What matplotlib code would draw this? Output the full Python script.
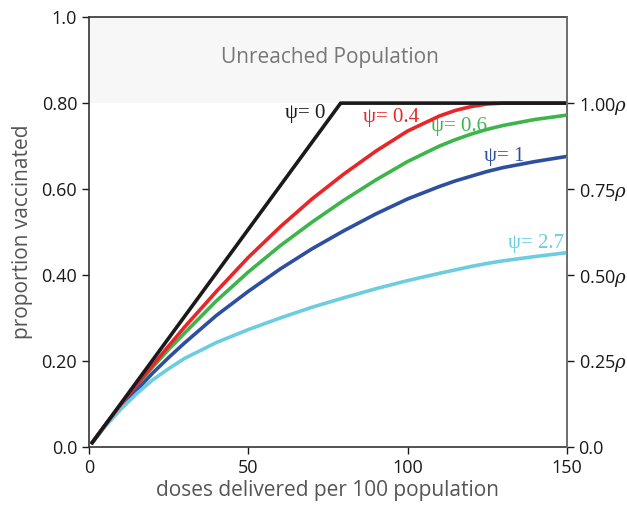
import matplotlib.pyplot as plt

# doses delivered per 100 population
doses = [1, 5, 10, 15, 20, 25, 30, 40, 50, 60, 70, 80, 90, 100, 110, 115, 120, 125, 130, 140, 150]

# proportion vaccinated for each heterogeneity value psi
psi0_x = [1, 79, 150]
psi0_y = [0.01, 0.80, 0.80]
psi04 = [0.01, 0.050, 0.099, 0.145, 0.190, 0.235, 0.279, 0.362, 0.441, 0.512, 0.577, 0.635, 0.688,
         0.735, 0.770, 0.783, 0.792, 0.798, 0.800, 0.800, 0.800]
psi06 = [0.01, 0.050, 0.097, 0.142, 0.186, 0.227, 0.265, 0.340, 0.407, 0.468, 0.523, 0.574, 0.621,
         0.664, 0.700, 0.715, 0.728, 0.739, 0.748, 0.762, 0.772]
psi1 = [0.01, 0.050, 0.092, 0.132, 0.172, 0.208, 0.242, 0.306, 0.362, 0.414, 0.461, 0.503, 0.542,
        0.577, 0.606, 0.619, 0.630, 0.641, 0.650, 0.664, 0.676]
psi27 = [0.01, 0.047, 0.088, 0.124, 0.156, 0.182, 0.206, 0.243, 0.273, 0.300, 0.325, 0.347, 0.368,
         0.387, 0.404, 0.412, 0.420, 0.427, 0.433, 0.443, 0.452]

rho = 0.8
left_ticks = [0.0, 0.2, 0.4, 0.6, 0.8, 1.0]
left_labels = ['0.0', '0.20', '0.40', '0.60', '0.80', '1.0']
right_ticks = [0.0, 0.2, 0.4, 0.6, 0.8]
right_labels = ['0.0', r'0.25$\rho$', r'0.50$\rho$', r'0.75$\rho$', r'1.00$\rho$']

plt.rcParams['font.family'] = ['Open Sans', 'DejaVu Sans']
plt.rcParams['mathtext.fontset'] = 'dejavuserif'

fig = plt.figure(figsize=(6.27, 5.05), dpi=100)
ax = fig.add_axes([0.142, 0.115, 0.762, 0.851])

# unreached population band
ax.axhspan(rho, 1.0, color='#f7f7f7', zorder=0, lw=0)
ax.text(75.5, 0.907, 'Unreached Population', ha='center', va='center',
        fontsize=15, color='#777777')

lw = 2.6
ax.plot(psi0_x, psi0_y, color='#1a1a1a', lw=lw, zorder=5)
ax.plot(doses, psi04, color='#e8262a', lw=lw, zorder=4)
ax.plot(doses, psi06, color='#3db54a', lw=lw, zorder=3)
ax.plot(doses, psi1, color='#2e4fa0', lw=lw, zorder=3)
ax.plot(doses, psi27, color='#6dcde0', lw=lw, zorder=3)

serif = ['Liberation Serif', 'DejaVu Serif']
ax.text(61.5, 0.775, 'ψ= 0', color='#1a1a1a', fontsize=15, family=serif, va='center')
ax.text(86, 0.767, 'ψ= 0.4', color='#e8262a', fontsize=15, family=serif, va='center')
ax.text(107.5, 0.745, 'ψ= 0.6', color='#3db54a', fontsize=15, family=serif, va='center')
ax.text(124, 0.675, 'ψ= 1', color='#2e4fa0', fontsize=15, family=serif, va='center')
ax.text(131.5, 0.474, 'ψ= 2.7', color='#6dcde0', fontsize=15, family=serif, va='center')

ax.set_xlim(0, 150)
ax.set_ylim(0, 1.0)
ax.set_xticks([0, 50, 100, 150])
ax.set_yticks(left_ticks)
ax.set_yticklabels(left_labels)
ax.tick_params(direction='out', length=5, width=1, labelsize=13, colors='#1a1a1a')
ax.set_xlabel('doses delivered per 100 population', fontsize=15, color='#555555', labelpad=2)
ax.set_ylabel('proportion vaccinated', fontsize=15, color='#555555', labelpad=6)
for s in ax.spines.values():
    s.set_color('#333333')
    s.set_linewidth(1.2)

ax2 = ax.twinx()
ax2.set_ylim(0, 1.0)
ax2.set_yticks(right_ticks)
ax2.set_yticklabels(right_labels)
ax2.tick_params(direction='out', length=5, width=1, labelsize=13, colors='#1a1a1a')
for s in ax2.spines.values():
    s.set_visible(False)
ax2.spines['right'].set_visible(True)
ax2.spines['right'].set_color('#777777')
ax2.spines['right'].set_linewidth(1.2)

fig.savefig('out.png', dpi=100)
